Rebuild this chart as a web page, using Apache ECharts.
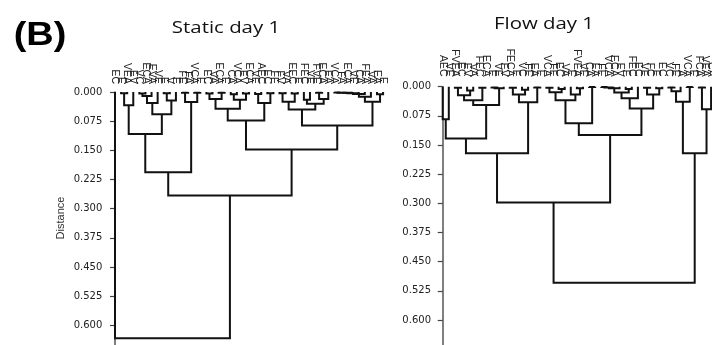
<!DOCTYPE html>
<html><head><meta charset="utf-8">
<script src="https://cdn.jsdelivr.net/npm/echarts@6/dist/echarts.min.js"></script>
<style>html,body{margin:0;padding:0;background:#fff}#c{width:712px;height:345px}</style>
</head><body><div id="c"></div>
<script>
// ---- DATA ----
const staticLabels = ["EC","E","VEA","EV","VC","ECA","EVA","VE","E","V","E","FE","FA","VCA","E","EC","VA","ECA","E","CA","VCA","EV","ECA","VE","AEC","EC","FE","FV","VA","EEC","E","FEC","VE","FVE","ECA","EA","VCA","FA","ECA","VE","CA","FEA","VA","EA","E"];
// linkage rows: [left node, right node, distance]; node ids >= labels.length are earlier merges
const staticMerges = [
  [1,2,0.003],[45,3,0.034],[4,5,0.004],[47,6,0.010],[48,7,0.028],[8,9,0.003],[50,10,0.022],
  [49,51,0.057],[46,52,0.108],[11,12,0.002],[13,14,0.002],[54,55,0.026],[53,56,0.206],
  [15,16,0.004],[17,18,0.002],[58,59,0.018],[19,20,0.006],[21,22,0.004],[61,62,0.020],
  [60,63,0.043],[23,24,0.005],[25,26,0.003],[65,66,0.028],[64,67,0.073],[27,28,0.003],
  [29,30,0.004],[69,70,0.025],[31,32,0.020],[33,34,0.002],[73,35,0.018],[72,74,0.030],
  [71,75,0.045],[36,37,0.001],[77,38,0.002],[78,39,0.002],[79,40,0.003],[80,41,0.005],
  [81,42,0.012],[43,44,0.006],[82,83,0.025],[76,84,0.086],[68,85,0.148],[57,86,0.266],
  [0,87,0.633]
];
const flowLabels = ["AEC","VE","FVEA","EC","EV","VA","FEC","ECA","E","VE","EV","FECA","E","VC","FE","EA","E","VCA","FE","EC","VA","E","FVEA","VE","CA","EA","FE","VCA","ECA","EV","E","FEC","EC","VE","FC","E","EC","VC","FE","A","VCA","E","FCA","VEA","CA"];
const flowMerges = [
  [0,1,0.084],[2,3,0.003],[4,5,0.010],[46,47,0.022],[6,7,0.003],[48,49,0.035],[8,9,0.002],
  [51,10,0.004],[50,52,0.047],[45,53,0.133],[11,12,0.003],[13,14,0.008],[55,56,0.020],
  [15,16,0.002],[57,58,0.040],[54,59,0.171],[17,18,0.003],[19,20,0.006],[61,62,0.014],
  [22,23,0.004],[21,64,0.020],[63,65,0.035],[24,25,0.001],[66,67,0.094],[26,27,0.001],
  [69,28,0.002],[70,29,0.004],[30,31,0.006],[71,72,0.015],[73,32,0.030],[33,34,0.003],
  [35,36,0.004],[75,76,0.020],[74,77,0.056],[68,78,0.124],[60,79,0.298],[37,38,0.002],
  [81,39,0.012],[40,41,0.001],[82,83,0.039],[42,43,0.002],[85,44,0.058],[84,86,0.171],
  [80,87,0.504]
];
const distanceInterval = 0.075;
const distanceMax = 0.675;
const panelTitles = ["Static day 1", "Flow day 1"];

// ---- BUILD ----
function buildSegments(n, merges) {
  const pos = [], hgt = [];
  for (let i = 0; i < n; i++) { pos[i] = i; hgt[i] = 0; }
  return merges.map(([a, b, h], k) => {
    const id = n + k;
    pos[id] = (pos[a] + pos[b]) / 2; hgt[id] = h;
    return { coords: [[pos[a], hgt[a]], [pos[a], h], [pos[b], h], [pos[b], hgt[b]]] };
  });
}
function posAxis(n, gi) {
  return { type: 'value', gridIndex: gi, position: 'top', min: -0.5, max: n - 0.5, show: false };
}
function leafAxis(labels, gi, margin) {
  return { type: 'category', gridIndex: gi, position: 'top', data: labels, boundaryGap: true,
    axisLine: { show: false }, axisTick: { show: false }, splitLine: { show: false },
    axisLabel: { rotate: 90, interval: 0, fontSize: 10.5, margin: margin, color: '#222',
      fontFamily: '"Liberation Sans", Arial, sans-serif' } };
}
function distAxis(gi, offset, margin) {
  return { type: 'value', gridIndex: gi, inverse: true, min: 0, max: distanceMax,
    interval: distanceInterval, position: 'left', offset: offset,
    axisLine: { show: true, lineStyle: { color: '#555', width: 1.5 } },
    axisTick: { show: true, length: 5, lineStyle: { color: '#444', width: 1.2 } },
    axisLabel: { margin: margin, fontSize: 10, color: '#222', fontFamily: '"DejaVu Sans", sans-serif',
      showMaxLabel: false, formatter: v => v.toFixed(3) },
    splitLine: { show: false } };
}
function treeSeries(n, merges, xi, yi) {
  return { type: 'lines', coordinateSystem: 'cartesian2d', xAxisIndex: xi, yAxisIndex: yi,
    polyline: true, clip: false, silent: true, animation: false,
    lineStyle: { color: '#111', width: 2, opacity: 1 },
    data: buildSegments(n, merges) };
}

const nS = staticLabels.length, nF = flowLabels.length;
const option = {
  backgroundColor: '#fff',
  animation: false,
  grid: [
    { left: 111.95, top: 92, width: 6.093 * nS, height: 262.6, outerBoundsMode: 'none', containLabel: false },
    { left: 439.65, top: 86.7, width: 6.1 * nF, height: 262.4, outerBoundsMode: 'none', containLabel: false }
  ],
  xAxis: [ posAxis(nS, 0), leafAxis(staticLabels, 0, 8), posAxis(nF, 1), leafAxis(flowLabels, 1, 10) ],
  yAxis: [ distAxis(0, 3.15, 6.5), distAxis(1, 3.65, 5) ],
  series: [ treeSeries(nS, staticMerges, 0, 0), treeSeries(nF, flowMerges, 2, 1) ],
  graphic: [
    { type: 'text', x: 40, y: 36, scaleX: 1.15, style: { text: '(B)', fill: '#000',
      font: 'bold 33px "Liberation Sans", Arial, sans-serif', textAlign: 'center', textVerticalAlign: 'middle',
      align: 'center', verticalAlign: 'middle' } },
    { type: 'text', x: 226, y: 28, scaleX: 1.2, style: { text: panelTitles[0], fill: '#111',
      font: '17px "Open Sans", sans-serif', textAlign: 'center', textVerticalAlign: 'middle',
      align: 'center', verticalAlign: 'middle' } },
    { type: 'text', x: 544, y: 24, scaleX: 1.2, style: { text: panelTitles[1], fill: '#111',
      font: '17px "Open Sans", sans-serif', textAlign: 'center', textVerticalAlign: 'middle',
      align: 'center', verticalAlign: 'middle' } },
    { type: 'text', x: 61, y: 218, rotation: Math.PI / 2, style: { text: 'Distance', fill: '#333',
      font: '11px "Liberation Sans", Arial, sans-serif', textAlign: 'center', textVerticalAlign: 'middle',
      align: 'center', verticalAlign: 'middle' } }
  ]
};
const chart = echarts.init(document.getElementById('c'), null, { renderer: 'canvas' });
chart.setOption(option);
</script></body></html>
